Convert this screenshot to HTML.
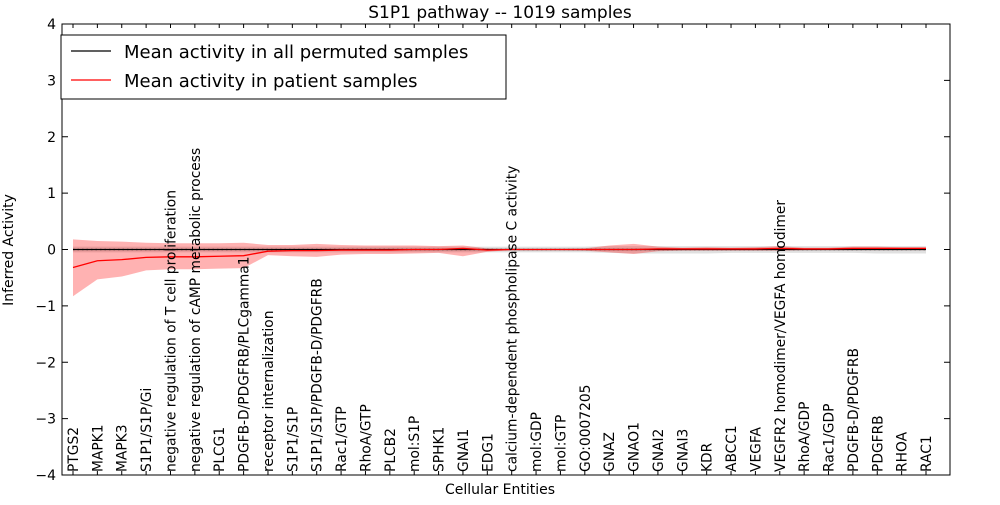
<!DOCTYPE html>
<html><head><meta charset="utf-8"><style>
body{margin:0;background:#fff;}
svg text{font-family:"DejaVu Sans","Liberation Sans",sans-serif;}
</style></head><body>
<svg id="chart" width="1000" height="500" xmlns="http://www.w3.org/2000/svg"></svg>
<script>
const categories=["PTGS2","MAPK1","MAPK3","S1P1/S1P/Gi","negative regulation of T cell proliferation","negative regulation of cAMP metabolic process","PLCG1","PDGFB-D/PDGFRB/PLCgamma1","receptor internalization","S1P1/S1P","S1P1/S1P/PDGFB-D/PDGFRB","Rac1/GTP","RhoA/GTP","PLCB2","mol:S1P","SPHK1","GNAI1","EDG1","calcium-dependent phospholipase C activity","mol:GDP","mol:GTP","GO:0007205","GNAZ","GNAO1","GNAI2","GNAI3","KDR","ABCC1","VEGFA","VEGFR2 homodimer/VEGFA homodimer","RhoA/GDP","Rac1/GDP","PDGFB-D/PDGFRB","PDGFRB","RHOA","RAC1"];
const patientMean=[-0.32,-0.2,-0.18,-0.14,-0.13,-0.13,-0.12,-0.11,-0.03,-0.02,-0.02,-0.01,-0.01,-0.01,0,0,0.02,-0.01,0,0,0,0,0,0,0.01,0.01,0.01,0.01,0.01,0.02,0.01,0.01,0.02,0.02,0.02,0.02];
const patientUpper=[0.18,0.15,0.14,0.12,0.11,0.11,0.11,0.12,0.08,0.08,0.1,0.08,0.07,0.07,0.07,0.06,0.07,0.02,0.01,0.01,0.01,0.02,0.07,0.1,0.05,0.03,0.04,0.03,0.04,0.06,0.03,0.03,0.05,0.05,0.04,0.04];
const patientLower=[-0.83,-0.53,-0.48,-0.37,-0.35,-0.35,-0.34,-0.33,-0.1,-0.12,-0.13,-0.09,-0.08,-0.08,-0.07,-0.06,-0.12,-0.04,-0.01,-0.01,-0.01,-0.02,-0.05,-0.08,-0.03,-0.02,-0.02,-0.02,-0.02,-0.02,-0.01,-0.01,-0.01,-0.01,-0.01,-0.01];
const permMean=[0,0,0,0,0,0,0,0,0,0,0,0,0,0,0,0,0,0,0,0,0,0,0,0,0,0,0,0,0,0,0,0,0,0,0,0];
const permUpper=[0.05,0.05,0.05,0.05,0.05,0.05,0.05,0.05,0.05,0.05,0.05,0.05,0.05,0.05,0.05,0.05,0.05,0.05,0.05,0.05,0.05,0.05,0.06,0.06,0.06,0.06,0.06,0.06,0.06,0.06,0.06,0.06,0.06,0.06,0.06,0.06];
const permLower=[-0.05,-0.05,-0.05,-0.05,-0.05,-0.05,-0.05,-0.05,-0.05,-0.05,-0.05,-0.05,-0.05,-0.05,-0.05,-0.05,-0.05,-0.05,-0.05,-0.05,-0.05,-0.05,-0.06,-0.07,-0.07,-0.07,-0.07,-0.06,-0.06,-0.06,-0.06,-0.06,-0.06,-0.07,-0.07,-0.07];
const yTicks=[-4,-3,-2,-1,0,1,2,3,4];
const yTickLabels=["\u22124","\u22123","\u22122","\u22121","0","1","2","3","4"];

const L=62,R=950,T=24,B=475;
const svg=document.getElementById('chart');
const NS="http://www.w3.org/2000/svg";
function x(i){return 73+i*(926-73)/(categories.length-1);}
function y(v){return T+(4-v)*(B-T)/8;}
function mk(tag,attrs,parent){const e=document.createElementNS(NS,tag);for(const k in attrs)e.setAttribute(k,attrs[k]);(parent||svg).appendChild(e);return e;}
function band(up,lo,fill,op){let d="M"+up.map((v,i)=>x(i)+","+y(v)).join("L");for(let i=lo.length-1;i>=0;i--)d+="L"+x(i)+","+y(lo[i]);return mk('path',{d:d+"Z",fill:fill,'fill-opacity':op});}
function line(vals,attrs){return mk('polyline',Object.assign({points:vals.map((v,i)=>x(i)+","+y(v)).join(" "),fill:"none"},attrs));}

let e;
e=band(permUpper,permLower,"#bbbbbb",0.45);


e=band(patientUpper,patientLower,"#ff0000",0.3);


e=line(permMean,{stroke:"#000","stroke-width":1.2});


e=line(permMean,{stroke:"#000","stroke-width":1.2,"stroke-dasharray":"1.5,3"});


e=line(patientMean,{stroke:"#ff0000","stroke-width":1.3});



e=mk('rect',{x:L,y:T,width:R-L,height:B-T,fill:"none",stroke:"#000","stroke-width":1});



yTicks.forEach((v,i)=>{
  const yy=y(v);
  mk('line',{x1:L,x2:L+6,y1:yy,y2:yy,stroke:"#000"});
  mk('line',{x1:R,x2:R-6,y1:yy,y2:yy,stroke:"#000"});
  const t=mk('text',{x:L-6,y:yy+5,'text-anchor':'end','font-size':14});
  t.textContent=yTickLabels[i];
  
  
});
categories.forEach((c,i)=>{
  const xx=x(i);
  mk('line',{x1:xx,x2:xx,y1:B,y2:B-4,stroke:"#000"});
  mk('line',{x1:xx,x2:xx,y1:T,y2:T+4,stroke:"#000"});
  const t=mk('text',{x:0,y:0,'font-size':13.8,transform:`translate(${xx+5},472) rotate(-90)`});
  t.textContent=c;
  
  
});

e=mk('text',{x:500,y:18,'text-anchor':'middle','font-size':17});
e.textContent="S1P1 pathway -- 1019 samples";


e=mk('text',{x:500,y:494,'text-anchor':'middle','font-size':14});
e.textContent="Cellular Entities";


e=mk('text',{x:0,y:0,'text-anchor':'middle','font-size':14,transform:"translate(13,250) rotate(-90)"});
e.textContent="Inferred Activity";



const lg=mk('g',{});


mk('rect',{x:61,y:35,width:445,height:64,fill:"#fff",stroke:"#000"},lg);
mk('line',{x1:71,x2:111,y1:51,y2:51,stroke:"#000","stroke-width":1.2},lg);
mk('line',{x1:71,x2:111,y1:80,y2:80,stroke:"#ff0000","stroke-width":1.2},lg);
e=mk('text',{x:124,y:58,'font-size':18},lg);
e.textContent="Mean activity in all permuted samples";


e=mk('text',{x:124,y:87,'font-size':18},lg);
e.textContent="Mean activity in patient samples";


</script>
</body></html>
